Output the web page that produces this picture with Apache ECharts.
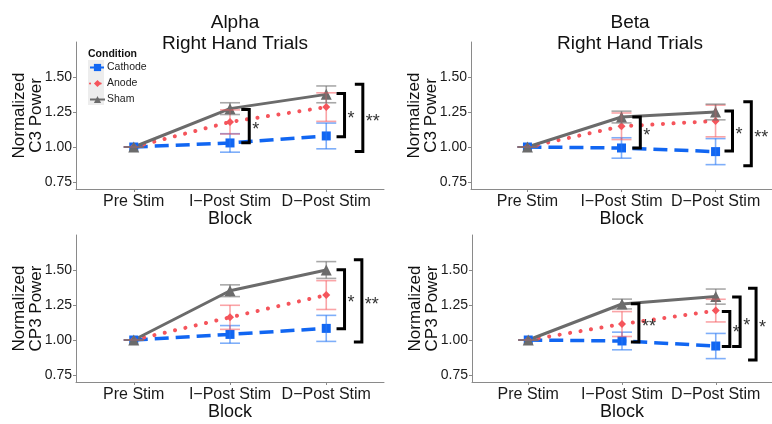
<!DOCTYPE html>
<html>
<head>
<meta charset="utf-8">
<script src="https://cdn.jsdelivr.net/npm/echarts@6/dist/echarts.min.js"></script>
<style>
html, body { margin: 0; padding: 0; background: #fff; }
#chart { width: 772px; height: 424px; }
</style>
</head>
<body>
<div id="chart"></div>
<script>
// categories / ticks
var blocks = ['Pre Stim', 'I\u2212Post Stim', 'D\u2212Post Stim'];
var blockPos = [0, 1, 2];
var yTicks = [0.75, 1.00, 1.25, 1.50];
var conditions = ['Cathode', 'Anode', 'Sham'];

// Alpha - C3
var alphaC3Cathode = [1.00, 1.029, 1.079];
var alphaC3CathodeSe = [0, 0.066, 0.092];
var alphaC3Anode = [1.00, 1.179, 1.285];
var alphaC3AnodeSe = [0, 0.086, 0.102];
var alphaC3Sham = [1.00, 1.274, 1.376];
var alphaC3ShamSe = [0, 0.042, 0.060];
var alphaC3BracketX = [1.20, 2.19, 2.38];
var alphaC3BracketTop = [1.267, 1.383, 1.448];
var alphaC3BracketBottom = [1.031, 1.074, 0.967];
var alphaC3BracketLabel = ['*', '*', '**'];

// Beta - C3
var betaC3Cathode = [1.00, 0.993, 0.967];
var betaC3CathodeSe = [0, 0.073, 0.093];
var betaC3Anode = [1.00, 1.148, 1.186];
var betaC3AnodeSe = [0, 0.095, 0.113];
var betaC3Sham = [1.00, 1.214, 1.250];
var betaC3ShamSe = [0, 0.042, 0.056];
var betaC3BracketX = [1.20, 2.18, 2.38];
var betaC3BracketTop = [1.214, 1.257, 1.324];
var betaC3BracketBottom = [0.993, 0.971, 0.866];
var betaC3BracketLabel = ['*', '*', '**'];

// Alpha - CP3
var alphaCP3Cathode = [1.00, 1.040, 1.083];
var alphaCP3CathodeSe = [0, 0.063, 0.093];
var alphaCP3Anode = [1.00, 1.162, 1.321];
var alphaCP3AnodeSe = [0, 0.086, 0.103];
var alphaCP3Sham = [1.00, 1.352, 1.500];
var alphaCP3ShamSe = [0, 0.042, 0.060];
var alphaCP3BracketX = [2.19, 2.37];
var alphaCP3BracketTop = [1.502, 1.574];
var alphaCP3BracketBottom = [1.081, 0.985];
var alphaCP3BracketLabel = ['*', '**'];

// Beta - CP3
var betaCP3Cathode = [1.00, 0.993, 0.957];
var betaCP3CathodeSe = [0, 0.063, 0.090];
var betaCP3Anode = [1.00, 1.114, 1.210];
var betaCP3AnodeSe = [0, 0.089, 0.081];
var betaCP3Sham = [1.00, 1.257, 1.310];
var betaCP3ShamSe = [0, 0.035, 0.054];
var betaCP3BracketX = [1.18, 2.15, 2.26, 2.43];
var betaCP3BracketTop = [1.259, 1.204, 1.307, 1.369];
var betaCP3BracketBottom = [0.986, 0.954, 0.954, 0.857];
var betaCP3BracketLabel = ['**', '*', '*', '*'];

var FONT = '"Liberation Sans", Arial, sans-serif';
var lineColors = ['#1166f2', '#f5545b', '#6b6b6b'];
var errColors = ['rgba(40,120,245,0.6)', 'rgba(245,90,95,0.55)', 'rgba(110,110,110,0.6)'];
var lineStyles = [
  { width: 3.5, type: [14, 7] },
  { width: 4, type: [0.1, 10.5], cap: 'round' },
  { width: 3, type: 'solid' }
];
var symbols = ['rect', 'diamond', 'triangle'];
var symbolSizes = [9, 8, 11];

var panels = [
  { left: 76, top: 42, title: 'Alpha\nRight Hand Trials', yName: 'Normalized\nC3 Power',
    means: [alphaC3Cathode, alphaC3Anode, alphaC3Sham], se: [alphaC3CathodeSe, alphaC3AnodeSe, alphaC3ShamSe],
    bx: alphaC3BracketX, bt: alphaC3BracketTop, bb: alphaC3BracketBottom, bl: alphaC3BracketLabel },
  { left: 471, top: 42, title: 'Beta\nRight Hand Trials', yName: 'Normalized\nC3 Power',
    means: [betaC3Cathode, betaC3Anode, betaC3Sham], se: [betaC3CathodeSe, betaC3AnodeSe, betaC3ShamSe],
    bx: betaC3BracketX, bt: betaC3BracketTop, bb: betaC3BracketBottom, bl: betaC3BracketLabel },
  { left: 76, top: 235, title: '', yName: 'Normalized\nCP3 Power',
    means: [alphaCP3Cathode, alphaCP3Anode, alphaCP3Sham], se: [alphaCP3CathodeSe, alphaCP3AnodeSe, alphaCP3ShamSe],
    bx: alphaCP3BracketX, bt: alphaCP3BracketTop, bb: alphaCP3BracketBottom, bl: alphaCP3BracketLabel },
  { left: 472, top: 235, title: '', yName: 'Normalized\nCP3 Power',
    means: [betaCP3Cathode, betaCP3Anode, betaCP3Sham], se: [betaCP3CathodeSe, betaCP3AnodeSe, betaCP3ShamSe],
    bx: betaCP3BracketX, bt: betaCP3BracketTop, bb: betaCP3BracketBottom, bl: betaCP3BracketLabel }
];

var PW = 308, PH = 147;
var grids = [], xAxes = [], yAxes = [], series = [], titles = [];

function renderErr(params, api) {
  var x = api.value(0), lo = api.value(1), hi = api.value(2), k = api.value(3);
  var a = api.coord([x, hi]);
  var b = api.coord([x, lo]);
  var w = 10;
  var st = { stroke: errColors[k], lineWidth: 1.6, fill: null };
  return {
    type: 'group',
    children: [
      { type: 'line', shape: { x1: a[0], y1: a[1], x2: b[0], y2: b[1] }, style: st },
      { type: 'line', shape: { x1: a[0] - w, y1: a[1], x2: a[0] + w, y2: a[1] }, style: st },
      { type: 'line', shape: { x1: b[0] - w, y1: b[1], x2: b[0] + w, y2: b[1] }, style: st }
    ]
  };
}

function bracketRender(labels) {
  return function (params, api) {
    var t = api.coord([api.value(0), api.value(1)]);
    var b = api.coord([api.value(0), api.value(2)]);
    var arm = 8;
    return {
      type: 'group',
      children: [
        { type: 'polyline',
          shape: { points: [[t[0] - arm, t[1]], [t[0], t[1]], [b[0], b[1]], [b[0] - arm, b[1]]] },
          style: { stroke: '#000', lineWidth: 3, fill: null, lineJoin: 'miter' } },
        { type: 'text', x: t[0] + 3, y: (t[1] + b[1]) / 2 + 4,
          style: { text: labels[params.dataIndex], font: '18px ' + FONT, fill: '#333',
                   align: 'left', verticalAlign: 'middle' } }
      ]
    };
  };
}

panels.forEach(function (p, i) {
  grids.push({ left: p.left, top: p.top, width: PW, height: PH });
  if (p.title) {
    titles.push({
      text: p.title, left: p.left + PW / 2, top: 7, textAlign: 'center',
      textStyle: { fontFamily: FONT, fontSize: 19, lineHeight: 21, fontWeight: 'normal', color: '#111' }
    });
  }
  xAxes.push({
    gridIndex: i, type: 'value', min: -0.6, max: 2.6,
    name: 'Block', nameLocation: 'middle', nameGap: 21, nameMoveOverlap: false,
    nameTextStyle: { fontFamily: FONT, fontSize: 18, color: '#111' },
    axisLine: { show: true, onZero: false, lineStyle: { color: '#8a8a8a', width: 1 } },
    axisTick: { show: true, length: 3, customValues: blockPos, lineStyle: { color: '#8a8a8a' } },
    axisLabel: { customValues: blockPos, margin: 5, fontFamily: FONT, fontSize: 16, color: '#1a1a1a',
                 formatter: function (v) { return blocks[Math.round(v)]; } },
    splitLine: { show: false }
  });
  yAxes.push({
    gridIndex: i, type: 'value', min: 0.7, max: 1.75,
    name: p.yName, nameLocation: 'middle', nameGap: 31, nameMoveOverlap: false,
    nameTextStyle: { fontFamily: FONT, fontSize: 17, lineHeight: 17, color: '#111' },
    axisLine: { show: true, onZero: false, lineStyle: { color: '#8a8a8a', width: 1 } },
    axisTick: { show: true, length: 3, customValues: yTicks, lineStyle: { color: '#8a8a8a' } },
    axisLabel: { customValues: yTicks, margin: 4, fontFamily: FONT, fontSize: 14, color: '#1a1a1a',
                 formatter: function (v) { return v.toFixed(2); } },
    splitLine: { show: false }
  });

  conditions.forEach(function (c, k) {
    series.push({
      type: 'line', name: c, xAxisIndex: i, yAxisIndex: i,
      data: p.means[k].map(function (v, j) { return [blockPos[j], v]; }),
      color: lineColors[k],
      lineStyle: lineStyles[k],
      symbol: symbols[k], symbolSize: symbolSizes[k], showSymbol: true,
      itemStyle: { color: lineColors[k] },
      z: 2, animation: false
    });
  });
  conditions.forEach(function (c, k) {
    series.push({
      type: 'custom', xAxisIndex: i, yAxisIndex: i, z: 3, silent: true,
      data: p.means[k].map(function (v, j) { return [blockPos[j], v - p.se[k][j], v + p.se[k][j], k]; }),
      renderItem: renderErr, encode: { x: 0, y: [1, 2] }, clip: false, animation: false
    });
  });
  series.push({
    type: 'custom', xAxisIndex: i, yAxisIndex: i, z: 4, silent: true,
    data: p.bx.map(function (x, j) { return [x, p.bt[j], p.bb[j]]; }),
    renderItem: bracketRender(p.bl), encode: { x: 0, y: [1, 2] }, clip: false, animation: false
  });
});

var chart = echarts.init(document.getElementById('chart'), null, { renderer: 'canvas' });
chart.setOption({
  animation: false,
  backgroundColor: '#fff',
  title: titles,
  grid: grids,
  xAxis: xAxes,
  yAxis: yAxes,
  legend: {
    data: conditions, orient: 'vertical', left: 89, top: 62, padding: 0,
    itemWidth: 15, itemHeight: 9, itemGap: 5,
    textStyle: { fontFamily: FONT, fontSize: 10.5, color: '#222', padding: [0, 0, 0, -3] }
  },
  graphic: [
    { type: 'rect', left: 88, top: 60, shape: { width: 16, height: 45 }, style: { fill: '#ededed' }, z: 0 },
    { type: 'text', left: 88, top: 49, style: { text: 'Condition', font: 'bold 10.5px ' + FONT, fill: '#111' } }
  ],
  series: series
});
</script>
</body>
</html>
